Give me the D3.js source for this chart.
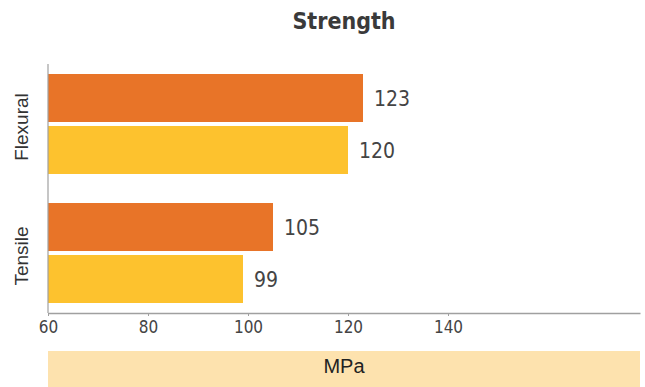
<!DOCTYPE html>
<html lang="en">
<head>
    <meta charset="UTF-8">
    <title>Strength</title>
    <script src="https://d3js.org/d3.v7.min.js"></script>
    <style>
        body {
            margin: 0;
            background: #fff;
            overflow: hidden;
        }
        .axis path, .axis line {
            stroke: #a0a0a0;
        }
        .x-axis text {
            font-family: "DejaVu Sans Condensed", "DejaVu Sans", sans-serif;
            font-size: 17px;
            fill: #444;
        }
        .cat-label {
            font-family: "Liberation Sans", Arial, sans-serif;
            font-size: 19px;
            fill: #333;
        }
        .value-label {
            font-family: "DejaVu Sans Condensed", "DejaVu Sans", sans-serif;
            font-size: 21px;
            fill: #444;
        }
    </style>
</head>
<body>
    <div id="chart"></div>

    <script>
        // data
        const categories = ["Flexural", "Tensile"];
        const seriesNames = ["A", "B"];
        const seriesA = [123, 105];
        const seriesB = [120, 99];
        const tickValues = [60, 80, 100, 120, 140];
        const unitLabel = "MPa";
        const titleText = "Strength";

        const colors = { A: "#e87428", B: "#fdc22e" };

        const width = 645, height = 387;
        const margin = { top: 64, right: 5, bottom: 74, left: 48 };

        const svg = d3.select("#chart").append("svg")
            .attr("width", width)
            .attr("height", height);

        const x = d3.scaleLinear()
            .domain([60, 178.4])
            .range([margin.left, width - margin.right]);

        const y = d3.scaleBand()
            .domain(categories)
            .range([margin.top, height - margin.bottom])
            .paddingInner(0.225)
            .paddingOuter(0.0775);

        const ySub = d3.scaleBand()
            .domain(seriesNames)
            .range([0, y.bandwidth()])
            .paddingInner(0.077);

        const rows = categories.map((c, i) => ({
            cat: c,
            values: [
                { key: "A", value: seriesA[i] },
                { key: "B", value: seriesB[i] }
            ]
        }));

        // title
        svg.append("text")
            .attr("x", (x.range()[0] + x.range()[1]) / 2)
            .attr("y", 29)
            .attr("text-anchor", "middle")
            .style("font-family", "'DejaVu Sans Condensed', 'DejaVu Sans', sans-serif")
            .style("font-weight", "bold")
            .style("font-size", "23px")
            .style("fill", "#3a3a3a")
            .text(titleText);

        // bars
        const groups = svg.selectAll(".group")
            .data(rows)
            .enter().append("g")
            .attr("transform", d => `translate(0,${y(d.cat)})`);

        groups.selectAll("rect")
            .data(d => d.values)
            .enter().append("rect")
            .attr("x", x(60))
            .attr("y", d => ySub(d.key))
            .attr("width", d => x(d.value) - x(60))
            .attr("height", ySub.bandwidth())
            .attr("fill", d => colors[d.key]);

        groups.selectAll(".value-label")
            .data(d => d.values)
            .enter().append("text")
            .attr("class", "value-label")
            .attr("x", d => x(d.value) + 11)
            .attr("y", d => ySub(d.key) + ySub.bandwidth() / 2)
            .attr("dy", "0.36em")
            .text(d => d.value);

        // x axis
        const xAxis = svg.append("g")
            .attr("class", "axis x-axis")
            .attr("transform", `translate(0,${height - margin.bottom})`)
            .call(d3.axisBottom(x).tickValues(tickValues).tickSizeInner(3).tickSizeOuter(0).tickPadding(5));
        xAxis.select(".domain").attr("stroke-width", 1.5);

        // y axis line
        svg.append("line")
            .attr("x1", x(60)).attr("x2", x(60))
            .attr("y1", margin.top).attr("y2", height - margin.bottom)
            .attr("stroke", "#a0a0a0")
            .attr("stroke-width", 1.2);

        // category labels
        svg.selectAll(".cat-label")
            .data(categories)
            .enter().append("text")
            .attr("class", "cat-label")
            .attr("transform", d => `translate(28,${y(d) + y.bandwidth() / 2 + 3}) rotate(-90)`)
            .attr("text-anchor", "middle")
            .text(d => d);

        // unit band
        svg.append("rect")
            .attr("x", x.range()[0])
            .attr("y", 351)
            .attr("width", x.range()[1] - x.range()[0])
            .attr("height", 36)
            .attr("fill", "#fde2ae");

        svg.append("text")
            .attr("x", (x.range()[0] + x.range()[1]) / 2)
            .attr("y", 373)
            .attr("text-anchor", "middle")
            .style("font-family", "'Liberation Sans', Arial, sans-serif")
            .style("font-size", "20px")
            .style("fill", "#222")
            .text(unitLabel);
    </script>
</body>
</html>
